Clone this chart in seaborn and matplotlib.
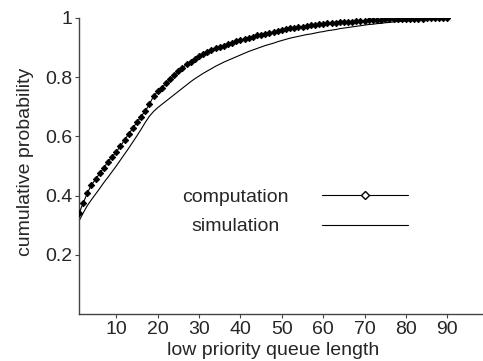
import numpy as np
import pandas as pd
import matplotlib
matplotlib.use("Agg")
import matplotlib.pyplot as plt
import seaborn as sns

queue_length = list(range(1, 91))

computation = [
    0.340, 0.374, 0.408, 0.436, 0.455, 0.475, 0.494, 0.515, 0.531, 0.548,
    0.567, 0.588, 0.608, 0.628, 0.648, 0.667, 0.686, 0.708, 0.736, 0.752,
    0.765, 0.779, 0.793, 0.807, 0.820, 0.832, 0.843, 0.853, 0.862, 0.871,
    0.879, 0.885, 0.891, 0.897, 0.902, 0.907, 0.912, 0.916, 0.921, 0.925,
    0.929, 0.933, 0.937, 0.941, 0.944, 0.947, 0.950, 0.953, 0.956, 0.959,
    0.962, 0.965, 0.967, 0.969, 0.971, 0.973, 0.975, 0.977, 0.979, 0.980,
    0.982, 0.983, 0.984, 0.985, 0.986, 0.987, 0.988, 0.989, 0.990, 0.991,
    0.992, 0.993, 0.993, 0.994, 0.995, 0.995, 0.996, 0.996, 0.997, 0.997,
    0.997, 0.998, 0.998, 0.998, 0.999, 0.999, 0.999, 0.999, 1.000, 1.000,
]

simulation = [
    0.314, 0.341, 0.366, 0.386, 0.405, 0.424, 0.444, 0.462, 0.481, 0.500,
    0.520, 0.540, 0.560, 0.581, 0.602, 0.624, 0.647, 0.668, 0.684, 0.697,
    0.708, 0.719, 0.730, 0.741, 0.752, 0.763, 0.774, 0.785, 0.795, 0.804,
    0.813, 0.821, 0.829, 0.837, 0.844, 0.851, 0.857, 0.863, 0.869, 0.875,
    0.881, 0.887, 0.892, 0.897, 0.902, 0.907, 0.911, 0.915, 0.920, 0.924,
    0.928, 0.932, 0.935, 0.938, 0.941, 0.944, 0.946, 0.949, 0.952, 0.954,
    0.957, 0.959, 0.961, 0.964, 0.966, 0.968, 0.970, 0.972, 0.974, 0.976,
    0.978, 0.979, 0.981, 0.982, 0.984, 0.985, 0.987, 0.988, 0.989, 0.990,
    0.991, 0.992, 0.993, 0.994, 0.995, 0.996, 0.997, 0.997, 0.998, 0.999,
]

x_ticks = [10, 20, 30, 40, 50, 60, 70, 80, 90]
y_ticks = [0.2, 0.4, 0.6, 0.8, 1.0]
y_tick_labels = ["0.2", "0.4", "0.6", "0.8", "1"]

FS = 14

sns.set_style("ticks")
plt.rcParams["font.family"] = ["Liberation Sans", "DejaVu Sans"]
plt.rcParams["font.size"] = FS

df_comp = pd.DataFrame({"x": queue_length, "y": computation})
df_sim = pd.DataFrame({"x": queue_length, "y": simulation})

fig = plt.figure(figsize=(4.83, 3.61), dpi=100)
ax = fig.add_axes([79 / 483, 1 - 314 / 361, 1 - 79 / 483, (314 - 18) / 361])

sns.lineplot(data=df_sim, x="x", y="y", ax=ax, color="black", linewidth=0.8,
             label="simulation", zorder=2)
sns.lineplot(data=df_comp, x="x", y="y", ax=ax, color="black", linewidth=0.8,
             marker="D", markersize=3.3, markerfacecolor="black",
             markeredgecolor="black", markeredgewidth=0.6,
             label="computation", zorder=3)

ax.set_xlim(1, 98.6)
ax.set_ylim(0, 1)
ax.set_xticks(x_ticks)
ax.set_xticklabels([str(t) for t in x_ticks])
ax.set_yticks(y_ticks)
ax.set_yticklabels(y_tick_labels)

ax.set_xlabel("low priority queue length", fontsize=FS)
ax.set_ylabel("cumulative probability", fontsize=FS)
ax.xaxis.set_label_coords((273.5 - 79) / 404, -(342 - 314) / 296)
ax.xaxis.label.set_va("top")
ax.yaxis.set_label_coords(-(79 - 34) / 404, 0.514)

for side in ["top", "right"]:
    ax.spines[side].set_visible(False)
for side in ["left", "bottom"]:
    ax.spines[side].set_color("#444444")
    ax.spines[side].set_linewidth(1.0)
ax.tick_params(axis="both", direction="out", length=3, width=0.8,
               color="#444444", labelsize=FS, pad=2)

handles, labels = ax.get_legend_handles_labels()
order = [labels.index("computation"), labels.index("simulation")]
leg = ax.legend([handles[i] for i in order], [labels[i] for i in order],
                loc="center", bbox_to_anchor=((295 - 79) / 404, (314 - 212) / 296),
                frameon=False, markerfirst=False, handlelength=4.4,
                handletextpad=1.7, labelspacing=0.6, fontsize=FS,
                numpoints=1, borderpad=0.2)
lh = leg.legend_handles[0]
lh.set_markerfacecolor("white")
lh.set_markersize(4.2)
lh.set_markeredgewidth(1.0)
leg.get_texts()[1].set_x(-9)

fig.savefig("out.png", dpi=100)
